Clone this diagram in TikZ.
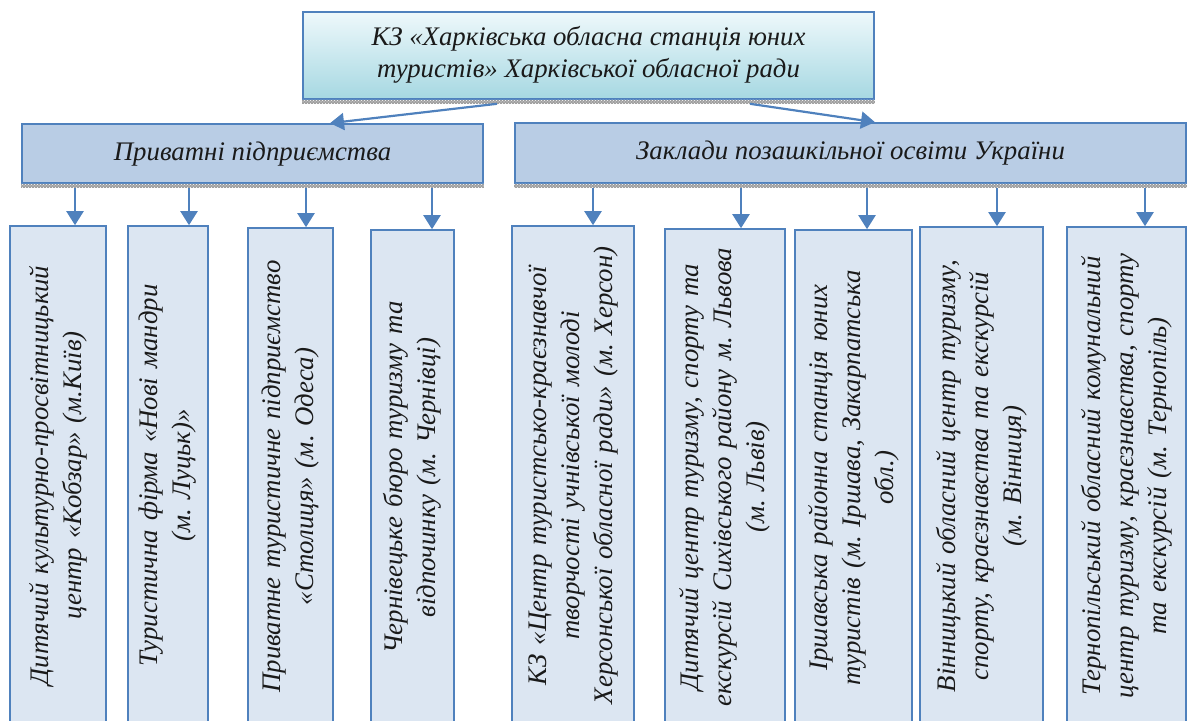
\documentclass[tikz,border=0pt]{standalone}
\usepackage{fontspec}
\setmainfont{Liberation Serif}
\usepackage{xcolor}
\usepackage{tikz}
\usetikzlibrary{arrows.meta, patterns}
\frenchspacing

\definecolor{frame}{HTML}{4F81BD}
\definecolor{topfill}{HTML}{A6D8E2}
\definecolor{topfilllight}{HTML}{EEF8FB}
\definecolor{hdrfill}{HTML}{B9CDE5}
\definecolor{boxfill}{HTML}{DCE6F2}
\definecolor{txt}{HTML}{1A1A1A}

\begin{document}
\begin{tikzpicture}[x=1pt, y=-1pt,
    every node/.style={font=\fontsize{26.8}{33}\selectfont\itshape, text=txt, align=center, inner sep=0pt},
    topbox/.style={draw=frame, line width=1.6pt, top color=topfilllight, bottom color=topfill,
                   font=\fontsize{26.8}{32}\selectfont\itshape, text height=49pt, text depth=6pt},
    hdrbox/.style={draw=frame, line width=1.6pt, fill=hdrfill, text height=19pt, text depth=6pt},
    unit/.style={draw=frame, line width=1.6pt, fill=boxfill, rotate=90, text width=485pt},
    link/.style={draw=frame, line width=2.2pt, -{Triangle[width=17pt,length=14pt]}},
    hatch/.style={pattern=crosshatch dots, pattern color=white}]
    \useasboundingbox (0,0) rectangle (1188,720);
    \clip (0,0) rectangle (1188,720);

    % main institution
    \node[topbox, minimum width=571pt, minimum height=87pt] (top) at (588.5,55.5)
        {КЗ «Харківська обласна станція юних\\туристів» Харківської обласної ради};

    % two groups
    \node[hdrbox, minimum width=461pt, minimum height=59pt] (priv) at (252.5,153.5) {Приватні підприємства};
    \node[hdrbox, minimum width=671pt, minimum height=60pt] (zakl) at (850.5,153) {Заклади позашкільної освіти України};

    % hatched shadows
    \foreach \b in {top, priv, zakl} {
        \fill[gray!75] (\b.south west) rectangle ([yshift=-4pt]\b.south east);
        \fill[hatch] (\b.south west) rectangle ([yshift=-4pt]\b.south east);
    }

    % private enterprises
    \node[unit, minimum width=499pt, minimum height=96pt] (p1) at (58,475.5)
        {Дитячий культурно-просвітницький\\центр «Кобзар» (м.Київ)};
    \node[unit, minimum width=499pt, minimum height=80pt] (p2) at (168,475.5)
        {Туристична фірма «Нові мандри\\(м. Луцьк)»};
    \node[unit, minimum width=497pt, minimum height=85pt] (p3) at (290.5,476.5)
        {Приватне туристичне підприємство\\«Столиця» (м. Одеса)};
    \node[unit, minimum width=495pt, minimum height=83pt] (p4) at (412.5,477.5)
        {Чернівецьке бюро туризму та\\відпочинку (м. Чернівці)};

    % out-of-school institutions
    \node[unit, minimum width=499pt, minimum height=122pt] (z1) at (573,475.5)
        {КЗ «Центр туристсько-краєзнавчої\\творчості учнівської молоді\\Херсонської обласної ради» (м. Херсон)};
    \node[unit, minimum width=496pt, minimum height=120pt] (z2) at (725,477)
        {Дитячий центр туризму, спорту та\\екскурсій Сихівського району м. Львова\\(м. Львів)};
    \node[unit, minimum width=495pt, minimum height=117pt] (z3) at (853.5,477.5)
        {Іршавська районна станція юних\\туристів (м. Іршава, Закарпатська\\обл.)};
    \node[unit, minimum width=498pt, minimum height=123pt] (z4) at (981.5,476)
        {Вінницький обласний центр туризму,\\спорту, краєзнавства та екскурсій\\(м. Вінниця)};
    \node[unit, minimum width=498pt, minimum height=119pt] (z5) at (1126.5,476)
        {Тернопільський обласний комунальний\\центр туризму, краєзнавства, спорту\\та екскурсій (м. Тернопіль)};

    % arrows
    \draw[link] ([xshift=-91.5pt, yshift=-4pt]top.south) -- ([xshift=77.5pt]priv.north);
    \draw[link] ([xshift=161.5pt, yshift=-4pt]top.south) -- ([xshift=24.5pt]zakl.north);
    \foreach \n/\dx/\h in {p1/17/priv, p2/21/priv, p3/15.5/priv, p4/19.5/priv,
                           z1/20/zakl, z2/16/zakl, z3/13.5/zakl, z4/15.5/zakl, z5/18.5/zakl}
        \draw[link] ([xshift=\dx pt, yshift=-4pt]\n.east |- \h.south) -- ([xshift=\dx pt]\n.east);
\end{tikzpicture}
\end{document}
